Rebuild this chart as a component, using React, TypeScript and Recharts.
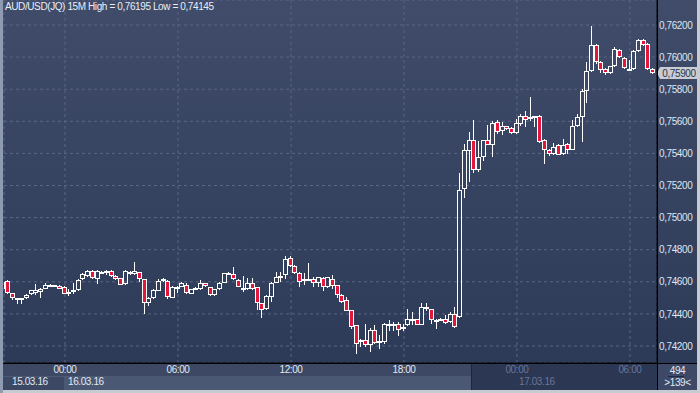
import React from 'react';
import { ComposedChart, Bar, XAxis, YAxis, CartesianGrid, ReferenceLine } from 'recharts';

// AUD/USD 15M candles (139 bars, 15.03.16 21:00 .. 17.03.16 07:30)
const opens = [
  0.74558, 0.74604, 0.74531, 0.74496, 0.7449, 0.74496, 0.74521, 0.74533, 0.74538, 0.74558,
  0.74575, 0.74579, 0.74575, 0.74569, 0.74533, 0.74538, 0.74548, 0.74615, 0.74637, 0.74669,
  0.74615, 0.74662, 0.74667, 0.74667, 0.74635, 0.74621, 0.74585, 0.74662, 0.74646, 0.74658,
  0.74615, 0.74465, 0.74496, 0.74544, 0.74604, 0.74604, 0.74502, 0.74569, 0.74569, 0.74583,
  0.74527, 0.74554, 0.74558, 0.7459, 0.74565, 0.74517, 0.74554, 0.74594, 0.74646, 0.74646,
  0.7461, 0.74563, 0.74558, 0.74594, 0.74565, 0.74465, 0.74433, 0.74506, 0.74594, 0.74631,
  0.7464, 0.74746, 0.747, 0.74652, 0.7461, 0.74615, 0.74615, 0.74594, 0.74621, 0.74565,
  0.74615, 0.74579, 0.74517, 0.74486, 0.74423, 0.74329, 0.74225, 0.74236, 0.74205, 0.74298,
  0.74231, 0.74226, 0.74331, 0.74329, 0.74334, 0.74321, 0.74329, 0.74367, 0.74367, 0.74333,
  0.7444, 0.74429, 0.7436, 0.7436, 0.74367, 0.7435, 0.74398, 0.74382, 0.75176, 0.75415,
  0.75485, 0.75295, 0.75378, 0.75485, 0.75454, 0.75594, 0.75538, 0.75569, 0.75559, 0.75526,
  0.75584, 0.75635, 0.75614, 0.75629, 0.75635, 0.75481, 0.75423, 0.75398, 0.7545, 0.75398,
  0.7546, 0.75423, 0.75573, 0.75629, 0.7579, 0.75912, 0.76078, 0.75968, 0.75926, 0.75899,
  0.75943, 0.76042, 0.75996, 0.75926, 0.75926, 0.76036, 0.76105, 0.76084, 0.75926,
];
const highs = [
  0.74606, 0.7461, 0.74533, 0.74502, 0.74498, 0.74521, 0.74552, 0.74585, 0.74563, 0.7459,
  0.74585, 0.74583, 0.74579, 0.74573, 0.74558, 0.7459, 0.74615, 0.74652, 0.74672, 0.74675,
  0.74672, 0.74669, 0.74672, 0.74672, 0.7464, 0.74625, 0.74672, 0.74667, 0.74721, 0.74662,
  0.74617, 0.74506, 0.74554, 0.74615, 0.74625, 0.7461, 0.74575, 0.74573, 0.746, 0.7459,
  0.74558, 0.74569, 0.7461, 0.74594, 0.74569, 0.74558, 0.746, 0.74656, 0.74658, 0.7469,
  0.74615, 0.74637, 0.74621, 0.74621, 0.74569, 0.74469, 0.74517, 0.746, 0.74662, 0.74662,
  0.7476, 0.7476, 0.74704, 0.74662, 0.74652, 0.74715, 0.74627, 0.74631, 0.74627, 0.74633,
  0.74642, 0.74583, 0.74521, 0.74506, 0.74427, 0.74333, 0.74242, 0.7434, 0.74315, 0.74329,
  0.74267, 0.74344, 0.7436, 0.7435, 0.7435, 0.74334, 0.74433, 0.74413, 0.74371, 0.74469,
  0.74469, 0.74433, 0.74367, 0.74375, 0.74392, 0.74413, 0.74444, 0.75275, 0.7546, 0.75532,
  0.75608, 0.75475, 0.75485, 0.75579, 0.756, 0.75608, 0.75598, 0.75573, 0.75565, 0.75614,
  0.75645, 0.75666, 0.75753, 0.75635, 0.7564, 0.75491, 0.75427, 0.75466, 0.75456, 0.75491,
  0.75466, 0.75608, 0.75645, 0.758, 0.75968, 0.76195, 0.76084, 0.75975, 0.75931, 0.75947,
  0.76063, 0.76048, 0.76, 0.75979, 0.76042, 0.7611, 0.7611, 0.7609, 0.75931,
];
const lows = [
  0.74554, 0.74527, 0.74486, 0.74459, 0.74459, 0.7449, 0.74517, 0.74517, 0.74502, 0.74554,
  0.74573, 0.74565, 0.74554, 0.74521, 0.74511, 0.74527, 0.74544, 0.7461, 0.7463, 0.74617,
  0.74585, 0.74646, 0.7464, 0.74633, 0.7461, 0.7458, 0.7458, 0.7464, 0.7464, 0.746,
  0.74398, 0.7445, 0.7449, 0.7454, 0.746, 0.7449, 0.74496, 0.74533, 0.74565, 0.74527,
  0.74521, 0.74548, 0.7455, 0.74569, 0.74511, 0.74511, 0.7455, 0.7459, 0.7464, 0.7461,
  0.74565, 0.74538, 0.74548, 0.74548, 0.74427, 0.74377, 0.74423, 0.74475, 0.7459, 0.746,
  0.74615, 0.74694, 0.74648, 0.74569, 0.74579, 0.74604, 0.74569, 0.74569, 0.74544, 0.7456,
  0.74558, 0.74502, 0.74465, 0.74415, 0.74308, 0.74149, 0.74194, 0.74194, 0.74163, 0.74211,
  0.74184, 0.74215, 0.74294, 0.74294, 0.74265, 0.74294, 0.74323, 0.74329, 0.74329, 0.74329,
  0.74419, 0.74336, 0.74308, 0.74354, 0.7434, 0.74344, 0.74315, 0.74375, 0.7512, 0.75223,
  0.75275, 0.75285, 0.75353, 0.7545, 0.75378, 0.75518, 0.75516, 0.75547, 0.75518, 0.75522,
  0.75573, 0.75563, 0.756, 0.75567, 0.75465, 0.75336, 0.75386, 0.75388, 0.75388, 0.75392,
  0.75398, 0.75419, 0.75567, 0.7547, 0.75711, 0.75905, 0.7596, 0.75899, 0.7589, 0.75895,
  0.75938, 0.75994, 0.75926, 0.75918, 0.75922, 0.7603, 0.7607, 0.7592, 0.75895,
];
const closes = [
  0.746, 0.74533, 0.74496, 0.74498, 0.74496, 0.74517, 0.74548, 0.74548, 0.74558, 0.74583,
  0.74579, 0.74569, 0.74558, 0.74527, 0.74538, 0.74552, 0.7461, 0.74646, 0.74667, 0.74621,
  0.74669, 0.74652, 0.74656, 0.74637, 0.74615, 0.74583, 0.74669, 0.74646, 0.74667, 0.74617,
  0.74465, 0.74502, 0.74548, 0.74606, 0.74615, 0.74506, 0.74569, 0.74565, 0.7459, 0.74533,
  0.74554, 0.74563, 0.7459, 0.74575, 0.74517, 0.74554, 0.74594, 0.74652, 0.74652, 0.74615,
  0.74569, 0.74558, 0.74594, 0.74558, 0.74465, 0.74427, 0.74511, 0.74594, 0.74627, 0.74637,
  0.7474, 0.74698, 0.74652, 0.746, 0.74615, 0.7461, 0.7459, 0.74627, 0.74569, 0.74627,
  0.74575, 0.74517, 0.74475, 0.74419, 0.74319, 0.74215, 0.74236, 0.74205, 0.74298, 0.74221,
  0.74226, 0.74334, 0.74334, 0.74334, 0.74302, 0.74308, 0.74367, 0.7436, 0.74333, 0.7444,
  0.74429, 0.7436, 0.74363, 0.74367, 0.74344, 0.74402, 0.74319, 0.75172, 0.75419, 0.75485,
  0.75295, 0.75378, 0.75481, 0.75454, 0.75588, 0.75532, 0.75573, 0.75553, 0.75528, 0.75588,
  0.75631, 0.75608, 0.75625, 0.75631, 0.7547, 0.75423, 0.75398, 0.75439, 0.75392, 0.75454,
  0.75423, 0.75573, 0.75629, 0.7579, 0.75912, 0.76078, 0.75968, 0.7592, 0.75899, 0.75943,
  0.76053, 0.76, 0.75931, 0.75922, 0.76036, 0.76105, 0.76074, 0.75926, 0.759,
];

const tickIndex = [13, 37, 61, 85, 109, 133];
const tickLabels = ['00:00', '06:00', '12:00', '18:00', '00:00', '06:00'];
const priceTicks = [0.742, 0.744, 0.746, 0.748, 0.75, 0.752, 0.754, 0.756, 0.758, 0.76, 0.762];
const dateLabels = ['15.03.16', '16.03.16', '17.03.16'];
const symbol = 'AUD/USD(JQ)';
const period = '15M';
const dayHigh = 0.76195;
const dayLow = 0.74145;
const barsTotal = 494;
const barsShown = 139;

const data = opens.map((o, i) => ({
  i,
  open: o,
  high: highs[i],
  low: lows[i],
  close: closes[i],
  range: [lows[i], highs[i]],
}));

const FONT = '"Liberation Sans", Arial, sans-serif';
const fmt = (v: number) => v.toFixed(5).replace('.', ',');
// candles from the 17th on sit in the dimmed part of the time bar
const dimFrom = 97;

const Candle = (props: any) => {
  const { x, y, width, height, payload } = props;
  if (x == null || y == null) return null;
  const { open, close, high, low } = payload;
  const top = Math.min(y, y + height);
  const h = Math.abs(height);
  const k = high === low ? 0 : h / (high - low);
  const cx = Math.round(x + width / 2);
  const yO = top + (high - open) * k;
  const yC = top + (high - close) * k;
  const bTop = Math.round(Math.min(yO, yC));
  const bBot = Math.max(bTop + 2, Math.round(Math.max(yO, yC)));
  const up = close >= open;
  const wx = cx - 0.5;
  return (
    <g>
      <line x1={wx} x2={wx} y1={Math.round(top)} y2={bTop} stroke="#fff" strokeWidth={1} />
      <line x1={wx} x2={wx} y1={bBot} y2={Math.round(top + h)} stroke="#fff" strokeWidth={1} />
      <rect
        x={cx - 2.5}
        y={bTop + 0.5}
        width={4}
        height={bBot - bTop - 1}
        fill={up ? 'none' : '#e3163c'}
        stroke="#fff"
        strokeWidth={1}
      />
    </g>
  );
};

const PriceTick = (props: any) => {
  const { x, y, payload } = props;
  return (
    <text x={x} y={y} dy="0.36em" textAnchor="start" fill="#dfe6f2" fontSize={10} fontFamily={FONT} style={{ letterSpacing: '-0.4px' }}>
      {fmt(payload.value)}
    </text>
  );
};

const TimeTick = (props: any) => {
  const { x, y, payload } = props;
  const k = tickIndex.indexOf(payload.value);
  return (
    <text x={x} y={y + 10} textAnchor="middle" fill={payload.value >= dimFrom ? '#67769a' : '#e3e9f3'} fontSize={10} fontFamily={FONT} style={{ letterSpacing: '-0.4px' }}>
      {tickLabels[k]}
    </text>
  );
};

const PriceTag = (props: any) => {
  const vb = props.viewBox || {};
  const x0 = vb.x + vb.width;
  const y0 = Math.round(vb.y);
  return (
    <g>
      <polygon
        points={`${x0},${y0} ${x0 + 3},${y0 - 6} ${x0 + 40},${y0 - 6} ${x0 + 40},${y0 + 6} ${x0 + 3},${y0 + 6}`}
        fill="#c9ccd2"
      />
      <text x={x0 + 22} y={y0} dy="0.36em" textAnchor="middle" fill="#2a3550" fontSize={10} fontFamily={FONT} style={{ letterSpacing: '-0.4px' }}>
        {fmt(closes[closes.length - 1])}
      </text>
    </g>
  );
};

const abs = (l: number, t: number, w: number, h: number, extra: React.CSSProperties = {}): React.CSSProperties => ({
  position: 'absolute', left: l, top: t, width: w, height: h, ...extra,
});

const txt: React.CSSProperties = {
  position: 'absolute', fontFamily: FONT, fontSize: 10, letterSpacing: '-0.4px', lineHeight: '12px', whiteSpace: 'nowrap',
};

export default function App() {
  return (
    <div style={{ position: 'relative', width: 700, height: 393, background: '#c6cad1', overflow: 'hidden' }}>
      <style>{'body{margin:0}'}</style>
      <div style={abs(0, 0, 3, 393, { background: '#8f9bb0' })} />
      <div style={abs(3, 0, 694, 390, { background: 'linear-gradient(to bottom, #404c69 0%, #2b3957 100%)' })} />
      {/* time / date bars */}
      <div style={abs(3, 364, 469, 26, { background: '#3c4864' })} />
      <div style={abs(64, 377, 408, 13, { background: '#4b5873' })} />
      <div style={abs(3, 376, 469, 1, { background: '#4e5a75' })} />
      <div style={abs(472, 364, 185, 26, { background: '#2b3753' })} />
      <div style={abs(471, 364, 1, 26, { background: '#1c253b' })} />
      <div style={abs(658, 364, 39, 26, { background: '#3d4966' })} />

      <div style={{ position: 'absolute', left: 0, top: 0 }}>
        <ComposedChart width={700} height={393} data={data} margin={{ top: 0, right: 0, bottom: 16, left: 4 }}>
          <CartesianGrid stroke="#5a6683" strokeDasharray="3 3" />
          <XAxis
            dataKey="i"
            type="number"
            domain={[0.0425, 138.74]}
            allowDataOverflow
            ticks={tickIndex}
            interval={0}
            height={14}
            tickLine={false}
            tickSize={0}
            tickMargin={0}
            axisLine={{ stroke: '#000' }}
            tick={<TimeTick />}
          />
          <YAxis
            orientation="right"
            domain={[0.740941, 0.763558]}
            allowDataOverflow
            ticks={priceTicks}
            interval={0}
            width={43}
            tickLine={false}
            tickSize={0}
            tickMargin={2}
            axisLine={{ stroke: '#000' }}
            tick={<PriceTick />}
          />
          <Bar dataKey="range" barSize={4} shape={<Candle />} isAnimationActive={false} />
          <ReferenceLine y={closes[closes.length - 1]} stroke="none" label={<PriceTag />} />
        </ComposedChart>
      </div>

      <div style={abs(3, 363, 694, 1, { background: '#000' })} />
      <div style={abs(657, 0, 1, 390, { background: '#000' })} />

      <div style={{ ...txt, left: 5, top: 1, color: '#e9eef6' }}>
        {`${symbol} ${period} High = ${fmt(dayHigh)} Low = ${fmt(dayLow)}`}
      </div>
      <div style={{ ...txt, left: 12, top: 376, color: '#e3e9f3' }}>{dateLabels[0]}</div>
      <div style={{ ...txt, left: 68, top: 376, color: '#e3e9f3' }}>{dateLabels[1]}</div>
      <div style={{ ...txt, left: 519, top: 376, color: '#67769a' }}>{dateLabels[2]}</div>
      <div style={{ ...txt, left: 658, top: 365, width: 39, textAlign: 'center', color: '#e3e9f3' }}>{barsTotal}</div>
      <div style={abs(668, 376, 16, 1, { background: '#1f2a42' })} />
      <div style={{ ...txt, left: 658, top: 377, width: 39, textAlign: 'center', color: '#e3e9f3' }}>{`>${barsShown}<`}</div>
    </div>
  );
}
